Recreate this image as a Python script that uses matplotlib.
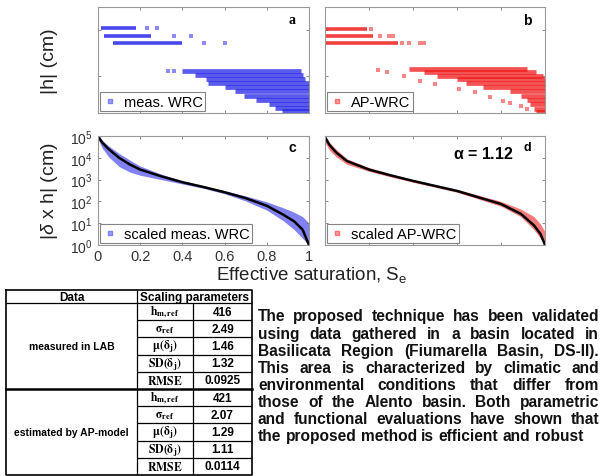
import numpy as np
import matplotlib
matplotlib.use('Agg')
import matplotlib.pyplot as plt
from matplotlib.lines import Line2D
from matplotlib.ticker import NullFormatter, FixedLocator

plt.rcParams['font.family'] = ['Liberation Sans', 'DejaVu Sans']
plt.rcParams['mathtext.fontset'] = 'custom'
plt.rcParams['mathtext.rm'] = 'Liberation Sans'
plt.rcParams['mathtext.it'] = 'Liberation Sans:italic'
plt.rcParams['mathtext.bf'] = 'Liberation Sans:bold'

# panel a - measured WRC, |h| in cm, banded points
a_band_h = [12300, 5500, 2750]
a_band_start = [0.015, 0.03, 0.07]
a_band_end = [0.18, 0.25, 0.40]
a_iso_se = [0.23, 0.28, 0.36, 0.44, 0.50, 0.60, 0.33, 0.36]
a_iso_h = [12300, 12300, 5500, 5500, 2750, 2750, 166, 160]
a_row_h = [166, 112, 76, 50, 34, 22, 14, 9.1, 6.2, 4.2, 3.1]
a_row_start = [0.40, 0.46, 0.51, 0.52, 0.60, 0.65, 0.69, 0.75, 0.81, 0.84, 0.87]
a_row_end = [0.96, 0.97, 0.98, 1.0, 1.0, 1.0, 1.0, 1.0, 1.0, 1.0, 1.0]

# panel b - AP-WRC
b_band_h = [11200, 5500, 2750]
b_band_start = [0.0, 0.0, 0.0]
b_band_end = [0.19, 0.22, 0.33]
b_iso_se = [0.21, 0.25, 0.29, 0.31, 0.35, 0.38, 0.43, 0.45,
            0.24, 0.28, 0.36, 0.43, 0.50, 0.61, 0.68, 0.75, 0.81, 0.84, 0.89, 0.92]
b_iso_h = [11200, 5500, 5500, 5500, 2750, 2750, 2750, 2750,
           186, 151, 102, 62, 46, 28, 20, 12, 8.3, 6.8, 5.0, 3.7]
b_row_h = [204, 151, 102, 76, 50, 34, 22, 14, 9.1, 6.2, 3.7, 2.8]
b_row_start = [0.38, 0.45, 0.51, 0.60, 0.64, 0.72, 0.84, 0.89, 0.92, 0.93, 0.95, 0.96]
b_row_end = [0.92, 0.96, 0.99, 1.0, 1.0, 1.0, 1.0, 1.0, 1.0, 1.0, 1.0, 1.0]

# panel c - scaled measured WRC (log10 of |delta x h|)
c_se = [0.0, 0.02, 0.05, 0.10, 0.15, 0.20, 0.30, 0.40, 0.50, 0.60, 0.70, 0.80, 0.88, 0.93, 0.97, 1.00]
c_curve_log = [5.0, 4.7, 4.4, 4.0, 3.7, 3.46, 3.15, 2.88, 2.66, 2.42, 2.15, 1.8, 1.38, 1.08, 0.7, 0.0]
c_hi_log = [5.0, 4.8, 4.55, 4.2, 3.9, 3.62, 3.25, 2.95, 2.72, 2.49, 2.25, 1.98, 1.7, 1.5, 1.3, 1.0]
c_lo_log = [4.85, 4.45, 4.05, 3.6, 3.35, 3.2, 3.0, 2.8, 2.6, 2.35, 2.02, 1.6, 1.1, 0.7, 0.3, 0.0]

# panel d - scaled AP-WRC
d_se = [0.0, 0.02, 0.05, 0.10, 0.20, 0.30, 0.40, 0.50, 0.60, 0.70, 0.80, 0.89, 0.95, 0.98, 1.0]
d_curve_log = [4.95, 4.6, 4.25, 3.85, 3.46, 3.19, 2.94, 2.71, 2.48, 2.18, 1.88, 1.43, 0.9, 0.5, 0.0]
d_hi_log = [5.0, 4.7, 4.4, 3.95, 3.55, 3.26, 3.0, 2.77, 2.55, 2.28, 2.0, 1.65, 1.3, 0.95, 0.6]
d_lo_log = [4.7, 4.35, 4.05, 3.7, 3.38, 3.12, 2.88, 2.65, 2.42, 2.1, 1.78, 1.3, 0.7, 0.3, 0.0]
alpha_value = '1.12'

# table
tab_groups = ['measured in LAB', 'estimated by AP-model']
tab_params = [r'$\mathbf{h_{m,ref}}$', r'$\mathbf{\sigma_{ref}}$', r'$\mathbf{\mu(\delta_j)}$',
              r'$\mathbf{SD(\delta_j)}$', r'$\mathbf{RMSE}$']
lab_values = ['416', '2.49', '1.46', '1.32', '0.0925']
ap_values = ['421', '2.07', '1.29', '1.11', '0.0114']

text_lines = [
    'The proposed technique has been  validated',
    'using data gathered in a basin located in',
    'Basilicata Region (Fiumarella Basin, DS-II).',
    'This area is characterized by climatic and',
    'environmental conditions that differ from',
    'those of the Alento basin. Both parametric',
    'and  functional evaluations have shown that',
    'the proposed method is efficient and robust',
]

W, H = 613, 477
fig = plt.figure(figsize=(W / 100, H / 100), dpi=100)


def px_axes(l, t, r, b):
    return fig.add_axes([l / W, 1 - b / H, (r - l) / W, (b - t) / H])


def style(ax, ylim):
    ax.set_xlim(0, 1)
    ax.set_yscale('log')
    ax.set_ylim(*ylim)
    ax.xaxis.set_major_locator(FixedLocator([0, 0.2, 0.4, 0.6, 0.8, 1.0]))
    ax.yaxis.set_minor_formatter(NullFormatter())
    ax.tick_params(which='both', direction='in', top=True, right=True,
                   length=2.5, width=0.6, color='#777777', labelsize=10.5,
                   labelcolor='#333333', pad=1.5)
    ax.tick_params(which='minor', length=0)
    for s in ax.spines.values():
        s.set_color('#999999')
        s.set_linewidth(0.8)


def legend(ax, label, face, edge):
    h = Line2D([], [], marker='s', ls='', ms=3, mfc=face, mec=edge)
    lg = ax.legend([h], [label], loc='lower left', fontsize=10.5, frameon=True,
                   fancybox=False, handlelength=1.0, handletextpad=0.5,
                   borderpad=0.15, borderaxespad=0.15)
    lg.get_frame().set_edgecolor('#666666')
    lg.get_frame().set_linewidth(0.8)


blue = '#1a1ae6'
red = '#f01010'

ax_a = px_axes(98, 8, 309, 114)
ax_a.hlines(a_band_h, a_band_start, a_band_end, colors=blue, lw=2.6, alpha=0.8)
ax_a.hlines(a_row_h, a_row_start, a_row_end, colors=blue, lw=3.4, alpha=0.72)
ax_a.scatter(a_iso_se, a_iso_h, marker='s', s=6, color=blue, alpha=0.5, lw=0)
style(ax_a, (10 ** 0.4, 10 ** 5))
ax_a.set_xticklabels([])
ax_a.set_yticklabels([])
ax_a.text(0.92, 0.88, 'a', transform=ax_a.transAxes, ha='center', va='center',
          fontsize=10, fontweight='bold', family='Liberation Serif')
legend(ax_a, 'meas. WRC', '#9d9dff', '#8080ff')

ax_b = px_axes(325, 8, 545, 114)
ax_b.hlines(b_band_h, b_band_start, b_band_end, colors=red, lw=2.6, alpha=0.8)
ax_b.hlines(b_row_h, b_row_start, b_row_end, colors=red, lw=3.4, alpha=0.72)
ax_b.scatter(b_iso_se, b_iso_h, marker='s', s=6, color=red, alpha=0.5, lw=0)
style(ax_b, (10 ** 0.4, 10 ** 5))
ax_b.set_xticklabels([])
ax_b.set_yticklabels([])
ax_b.text(0.92, 0.88, 'b', transform=ax_b.transAxes, ha='center', va='center',
          fontsize=10, fontweight='bold')
legend(ax_b, 'AP-WRC', '#ff9d9d', '#ff7070')

ax_c = px_axes(98, 137, 309, 246)
c_lo = 10 ** np.array(c_lo_log)
c_hi = 10 ** np.array(c_hi_log)
ax_c.fill_between(c_se, c_lo, c_hi, color=blue, alpha=0.55, lw=0)
ax_c.plot(c_se, 10 ** np.array(c_curve_log), color='black', lw=1.8)
style(ax_c, (1, 1e5))
ax_c.set_yticks([1, 10, 100, 1e3, 1e4, 1e5])
ax_c.set_xticklabels(['0', '0.2', '0.4', '0.6', '0.8', '1'])
ax_c.tick_params(axis='y', labelsize=10, pad=4)
ax_c.tick_params(axis='x', pad=3)
ax_c.text(0.92, 0.9, 'c', transform=ax_c.transAxes, ha='center', va='center',
          fontsize=10, fontweight='bold')
legend(ax_c, 'scaled meas. WRC', '#9d9dff', '#8080ff')

ax_d = px_axes(325, 137, 545, 246)
d_lo = 10 ** np.array(d_lo_log)
d_hi = 10 ** np.array(d_hi_log)
ax_d.fill_between(d_se, d_lo, d_hi, color=red, alpha=0.55, lw=0)
ax_d.plot(d_se, 10 ** np.array(d_curve_log), color='black', lw=1.8)
style(ax_d, (1, 1e5))
ax_d.set_yticks([1, 10, 100, 1e3, 1e4, 1e5])
ax_d.set_xticklabels([])
ax_d.set_yticklabels([])
ax_d.text(0.92, 0.9, 'd', transform=ax_d.transAxes, ha='center', va='center',
          fontsize=9, fontweight='bold')
ax_d.text(0.72, 0.84, r'$\mathbf{\alpha}$ = ' + alpha_value, transform=ax_d.transAxes,
          ha='center', va='center', fontsize=11.5, fontweight='bold')
legend(ax_d, 'scaled AP-WRC', '#ff9d9d', '#ff7070')

# axis titles
fig.text(50 / W, 1 - 61 / H, '|h| (cm)', rotation=90, ha='center', va='center',
         fontsize=14, color='#222222')
fig.text(50 / W, 1 - 191 / H, r'|$\delta$ x h| (cm)', rotation=90, ha='center',
         va='center', fontsize=14, color='#222222')
fig.text(312 / W, 1 - 275 / H, r'Effective saturation, S$_{\mathrm{e}}$', ha='center',
         va='center', fontsize=13.5, color='#222222')

# table drawn on an overlay axes in pixel coordinates
tax = fig.add_axes([0, 0, 1, 1])
tax.set_xlim(0, W)
tax.set_ylim(H, 0)
tax.axis('off')
x0, x1, x2, x3 = 6, 137, 193, 252
top, head = 291, 304
row_h = (476 - head) / 10
lk = dict(color='black', lw=0.9, solid_capstyle='butt')
tax.plot([x0, x3, x3, x0, x0], [top, top, 476, 476, top], color='black', lw=1.2)
tax.plot([x0, x3], [head, head], **lk)
tax.plot([x1, x1], [top, 476], **lk)
tax.plot([x2, x2], [head, 476], **lk)
for i in range(1, 10):
    y = head + i * row_h
    if i == 5:
        tax.plot([x0, x3], [y, y], color='black', lw=1.8)
    else:
        tax.plot([x1, x3], [y, y], **lk)
tax.text((x0 + x1) / 2, (top + head) / 2 + 0.5, 'Data', ha='center', va='center',
         fontsize=8.5, fontweight='bold')
tax.text((x1 + x3) / 2, (top + head) / 2 + 0.5, 'Scaling parameters', ha='center',
         va='center', fontsize=8.5, fontweight='bold')
for g, (grp, vals) in enumerate(zip(tab_groups, [lab_values, ap_values])):
    yc = head + (g * 5 + 2.5) * row_h
    tax.text((x0 + x1) / 2, yc, grp, ha='center', va='center', fontsize=7.5,
             fontweight='bold')
    for k, (p, v) in enumerate(zip(tab_params, vals)):
        yr = head + (g * 5 + k + 0.5) * row_h
        tax.text((x1 + x2) / 2, yr, p, ha='center', va='center', fontsize=8.5,
                 math_fontfamily='stix')
        tax.text((x2 + x3) / 2, yr, v, ha='center', va='center', fontsize=8.5,
                 fontweight='bold')

# justified paragraph
fig.canvas.draw()
renderer = fig.canvas.get_renderer()
tx0, tx1 = 258, 599
ty0, tdy = 317, 17.1
fs = 11.2
for i, line in enumerate(text_lines):
    y = ty0 + i * tdy
    words = line.split()
    items = [tax.text(0, y, w, ha='left', va='center', fontsize=fs,
                      fontweight='bold', color='#111111') for w in words]
    widths = [t.get_window_extent(renderer).width for t in items]
    if i == len(text_lines) - 1:
        gap = 0.28 * fs * 100 / 72
    else:
        gap = (tx1 - tx0 - sum(widths)) / (len(words) - 1)
    x = tx0
    for t, w in zip(items, widths):
        t.set_x(x)
        x += w + gap

fig.savefig('out.png', dpi=100)
